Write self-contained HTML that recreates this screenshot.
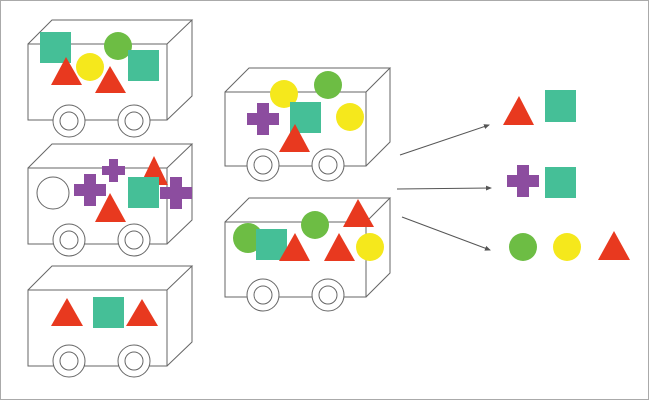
<!DOCTYPE html>
<html><head><meta charset="utf-8"><style>html,body{margin:0;padding:0;background:#fff}svg{display:block}</style></head><body>
<svg width="649" height="400" viewBox="0 0 649 400" xmlns="http://www.w3.org/2000/svg">
<defs>
<marker id="ah" markerWidth="6" markerHeight="6" refX="5" refY="3" orient="auto" markerUnits="userSpaceOnUse"><path d="M0,0.5 L6,3 L0,5.5 Z" fill="#555"/></marker>
<g id="cart" fill="none" stroke="#666" stroke-width="1">
<rect x="0" y="24" width="139" height="76" fill="#fff"/>
<path d="M0,24 L24,0 L164,0 L139,24 M164,0 L164,76 L139,100"/>
</g>
<g id="wheel" stroke="#666" stroke-width="1" fill="#fff"><circle r="16"/><circle r="9"/></g>
</defs>
<rect x="0.5" y="0.5" width="648" height="399" fill="#fff" stroke="#aaa"/>

<!-- cart 1 -->
<use href="#cart" x="28" y="20"/>
<use href="#wheel" x="69" y="121"/><use href="#wheel" x="134" y="121"/>
<rect x="40" y="32" width="31" height="31" fill="#45bf97"/>
<circle cx="118" cy="46" r="14" fill="#6dbd44"/>
<rect x="128" y="50" width="31" height="31" fill="#45bf97"/>
<polygon points="66,57 51,85 82,85" fill="#e8391f"/>
<circle cx="90" cy="67" r="14" fill="#f5e81c"/>
<polygon points="110,66 95,93 126,93" fill="#e8391f"/>

<!-- cart 2 -->
<use href="#cart" x="28" y="144"/>
<use href="#wheel" x="69" y="240"/><use href="#wheel" x="134" y="240"/>
<circle cx="53" cy="193" r="16" fill="#fff" stroke="#666"/>
<path d="M84,174h12v10h10v12h-10v10h-12v-10h-10v-12h10z" fill="#8c4d9f"/>
<path d="M109,159h9v7h7v9h-7v7h-9v-7h-7v-9h7z" fill="#8c4d9f"/>
<polygon points="154,156 140,185 168,185" fill="#e8391f"/>
<rect x="128" y="177" width="31" height="31" fill="#45bf97"/>
<path d="M170,177h12v10h10v12h-10v10h-12v-10h-10v-12h10z" fill="#8c4d9f"/>
<polygon points="110,193 95,222 126,222" fill="#e8391f"/>

<!-- cart 3 -->
<use href="#cart" x="28" y="266"/>
<use href="#wheel" x="69" y="361"/><use href="#wheel" x="134" y="361"/>
<polygon points="67,298 51,326 83,326" fill="#e8391f"/>
<rect x="93" y="297" width="31" height="31" fill="#45bf97"/>
<polygon points="142,299 126,326 158,326" fill="#e8391f"/>

<!-- cart 4 -->
<g transform="translate(225,68) scale(1.0,1.0)">
<rect x="0" y="24" width="141" height="74" fill="#fff" stroke="#666"/>
<path d="M0,24 L24,0 L165,0 L141,24 M165,0 L165,74 L141,98" fill="none" stroke="#666"/>
</g>
<use href="#wheel" x="263" y="165"/><use href="#wheel" x="328" y="165"/>
<circle cx="284" cy="94" r="14" fill="#f5e81c"/>
<circle cx="328" cy="85" r="14" fill="#6dbd44"/>
<path d="M257,103h12v10h10v12h-10v10h-12v-10h-10v-12h10z" fill="#8c4d9f"/>
<rect x="290" y="102" width="31" height="31" fill="#45bf97"/>
<circle cx="350" cy="117" r="14" fill="#f5e81c"/>
<polygon points="295,124 279,152 310,152" fill="#e8391f"/>

<!-- cart 5 -->
<g transform="translate(225,198)">
<rect x="0" y="24" width="141" height="75" fill="#fff" stroke="#666"/>
<path d="M0,24 L24,0 L165,0 L141,24 M165,0 L165,75 L141,99" fill="none" stroke="#666"/>
</g>
<use href="#wheel" x="263" y="295"/><use href="#wheel" x="328" y="295"/>
<circle cx="248" cy="238" r="15" fill="#6dbd44"/>
<rect x="256" y="229" width="31" height="31" fill="#45bf97"/>
<polygon points="295,233 279,261 310,261" fill="#e8391f"/>
<circle cx="315" cy="225" r="14" fill="#6dbd44"/>
<polygon points="339,233 324,261 355,261" fill="#e8391f"/>
<polygon points="358,199 343,227 374,227" fill="#e8391f"/>
<circle cx="370" cy="247" r="14" fill="#f5e81c"/>

<!-- arrows -->
<g stroke="#555" stroke-width="1" marker-end="url(#ah)">
<line x1="400" y1="155" x2="489" y2="125"/>
<line x1="397" y1="189" x2="491" y2="188"/>
<line x1="402" y1="217" x2="490" y2="250"/>
</g>

<!-- results -->
<polygon points="519,96 503,125 534,125" fill="#e8391f"/>
<rect x="545" y="90" width="31" height="32" fill="#45bf97"/>
<path d="M517,165h12v10h10v12h-10v10h-12v-10h-10v-12h10z" fill="#8c4d9f"/>
<rect x="545" y="167" width="31" height="31" fill="#45bf97"/>
<circle cx="523" cy="247" r="14" fill="#6dbd44"/>
<circle cx="567" cy="247" r="14" fill="#f5e81c"/>
<polygon points="614,231 598,260 630,260" fill="#e8391f"/>
</svg>
</body></html>
